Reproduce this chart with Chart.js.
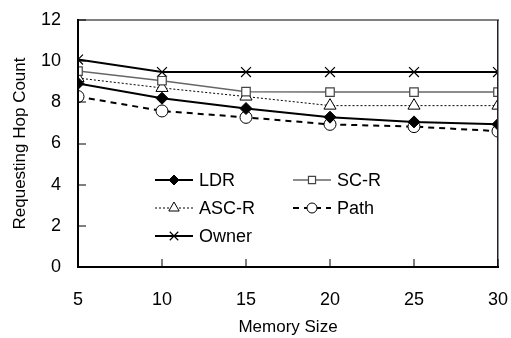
<!DOCTYPE html>
<html>
<head>
<meta charset="utf-8">
<script src="https://cdn.jsdelivr.net/npm/chart.js@4/dist/chart.umd.min.js"></script>
<style>
  html, body { margin: 0; padding: 0; background: #fff; }
  #wrap { width: 511px; height: 338px; }
</style>
</head>
<body>
<div id="wrap"><canvas id="chart"></canvas></div>
<script>
// Data
const memorySizes = [5, 10, 15, 20, 25, 30];
const ldr   = [8.92, 8.2, 7.7, 7.28, 7.05, 6.93];
const scR   = [9.52, 9.05, 8.52, 8.5, 8.5, 8.5];
const ascR  = [9.18, 8.7, 8.28, 7.84, 7.84, 7.84];
const path  = [8.28, 7.58, 7.27, 6.93, 6.82, 6.6];
const owner = [10.08, 9.47, 9.47, 9.47, 9.47, 9.47];
const yTicks = [0, 2, 4, 6, 8, 10, 12];

const FONT = "'Liberation Sans', Arial, sans-serif";

function toPoints(vals) {
    return memorySizes.map((x, i) => ({ x: x, y: vals[i] }));
}

const datasets = [
    { label: 'LDR', data: toPoints(ldr), borderColor: '#000', borderWidth: 2,
      pointStyle: 'rectRot', pointRadius: 6, pointBackgroundColor: '#000', pointBorderColor: '#000', pointBorderWidth: 1 },
    { label: 'SC-R', data: toPoints(scR), borderColor: '#666', borderWidth: 1.5,
      pointStyle: 'rect', pointRadius: 6, pointBackgroundColor: '#fff', pointBorderColor: '#444', pointBorderWidth: 1.2 },
    { label: 'ASC-R', data: toPoints(ascR), borderColor: '#000', borderWidth: 1, borderDash: [2, 2],
      pointStyle: 'triangle', pointRadius: 7, pointBackgroundColor: '#fff', pointBorderColor: '#000', pointBorderWidth: 1 },
    { label: 'Path', data: toPoints(path), borderColor: '#000', borderWidth: 2, borderDash: [6, 5],
      pointStyle: 'circle', pointRadius: 6, pointBackgroundColor: '#fff', pointBorderColor: '#000', pointBorderWidth: 1 },
    { label: 'Owner', data: toPoints(owner), borderColor: '#000', borderWidth: 2,
      pointStyle: 'crossRot', pointRadius: 7, pointBackgroundColor: '#000', pointBorderColor: '#000', pointBorderWidth: 1.2 }
];

// legend inside the plot (two columns), then frame and inward ticks on top
const overlay = {
    id: 'overlay',
    afterDraw(chart) {
        const ctx = chart.ctx;
        const a = chart.chartArea;
        const xs = chart.scales.x, ys = chart.scales.y;
        const slots = [
            { i: 0, x: 155, y: 180 }, { i: 1, x: 293, y: 180 },
            { i: 2, x: 155, y: 208 }, { i: 3, x: 293, y: 208 },
            { i: 4, x: 155, y: 236 }
        ];
        ctx.save();
        ctx.font = '18px ' + FONT;
        ctx.textBaseline = 'middle';
        slots.forEach(s => {
            const ds = chart.data.datasets[s.i];
            const len = 38;
            ctx.strokeStyle = ds.borderColor;
            ctx.lineWidth = ds.borderWidth;
            ctx.setLineDash(ds.borderDash || []);
            ctx.beginPath(); ctx.moveTo(s.x, s.y); ctx.lineTo(s.x + len, s.y); ctx.stroke();
            ctx.setLineDash([]);
            ctx.fillStyle = ds.pointBackgroundColor;
            ctx.strokeStyle = ds.pointBorderColor;
            ctx.lineWidth = ds.pointBorderWidth;
            Chart.helpers.drawPoint(ctx, {
                pointStyle: ds.pointStyle,
                radius: ds.pointRadius - 1,
                borderWidth: ds.pointBorderWidth,
                rotation: 0
            }, s.x + len / 2, s.y);
            ctx.fillStyle = '#000';
            ctx.fillText(ds.label, s.x + len + 6, s.y + 1);
        });
        ctx.restore();

        // frame as filled strips
        ctx.save();
        const L = Math.round(a.left), R = Math.round(a.right);
        const T = Math.round(a.top), B = Math.round(a.bottom);
        ctx.fillStyle = '#808080';
        ctx.fillRect(L, T - 1, R - L + 1, 2);
        ctx.fillStyle = '#222';
        ctx.fillRect(R - 1, T, 1.5, B - T);
        ctx.fillStyle = '#000';
        ctx.fillRect(L - 1, T - 1, 2, B - T + 2);
        ctx.fillRect(L - 1, B - 1, R - L + 2, 2);
        yTicks.forEach(v => {
            const y = Math.round(ys.getPixelForValue(v));
            ctx.fillRect(L, y - 0.5, 8, 1);
        });
        memorySizes.forEach(v => {
            const x = Math.round(xs.getPixelForValue(v));
            ctx.fillRect(x - 0.5, B - 8, 1, 8);
        });
        ctx.restore();
    }
};

Chart.defaults.font.family = FONT;
Chart.defaults.color = '#000';

function noPad(s) {
    s.paddingTop = 0; s.paddingBottom = 0; s.paddingLeft = 0; s.paddingRight = 0;
}

new Chart(document.getElementById('chart'), {
    type: 'line',
    data: { datasets: datasets },
    options: {
        responsive: true,
        maintainAspectRatio: false,
        animation: false,
        layout: { padding: { top: 20, right: 13, left: 0, bottom: 0 } },
        plugins: { legend: { display: false }, tooltip: { enabled: false } },
        scales: {
            x: {
                type: 'linear', min: 5, max: 30,
                border: { display: true, color: '#000', width: 1.5 },
                grid: { display: false, drawTicks: false },
                ticks: { stepSize: 5, padding: 22, font: { size: 18 } },
                title: { display: true, text: 'Memory Size', font: { size: 17 }, padding: { top: 0, bottom: 0 } },
                afterFit: s => { s.height = 71; noPad(s); }
            },
            y: {
                min: 0, max: 12,
                border: { display: true, color: '#000', width: 1.5 },
                grid: { display: false, drawTicks: false },
                ticks: { stepSize: 2, padding: 17, font: { size: 18 } },
                title: { display: true, text: 'Requesting Hop Count', font: { size: 17 }, padding: { top: 10, bottom: 0 } },
                afterFit: s => { s.width = 78; noPad(s); }
            }
        }
    },
    plugins: [overlay]
});
</script>
</body>
</html>
